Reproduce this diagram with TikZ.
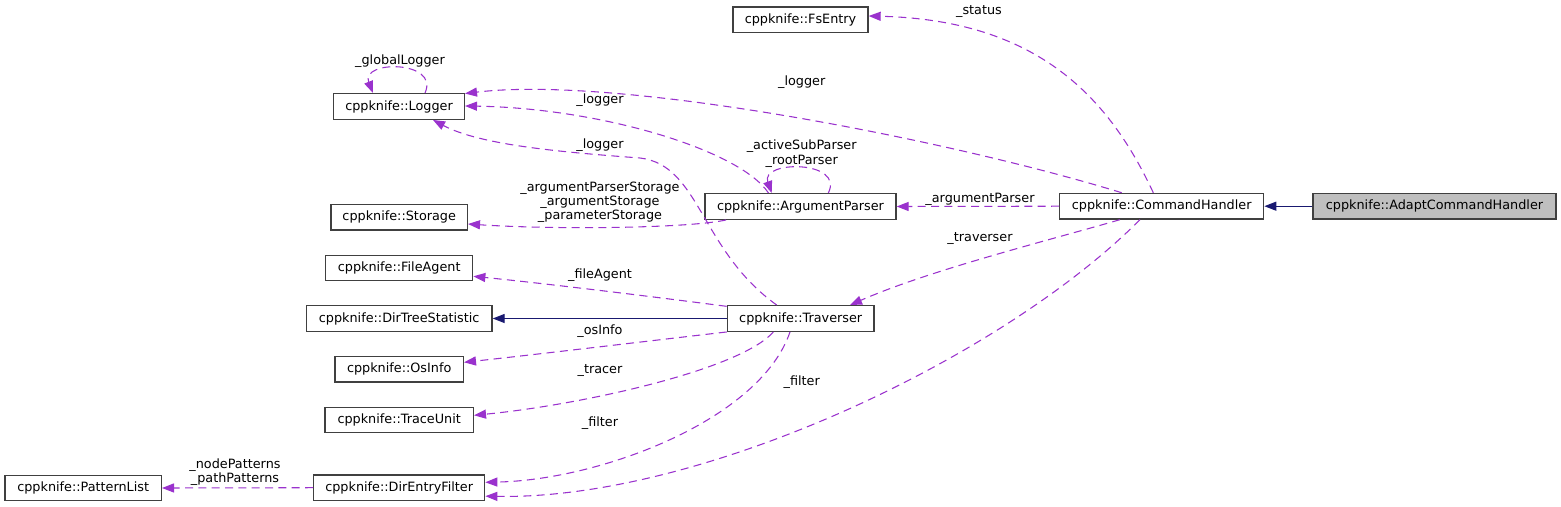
\documentclass[tikz,border=0pt]{standalone}
\usepackage{fontspec}
\setmainfont{DejaVu Sans}
\usetikzlibrary{arrows.meta,calc}
\definecolor{edgepurple}{HTML}{9A32CD}
\definecolor{edgenavy}{HTML}{191970}
\definecolor{boxborder}{HTML}{404040}
\definecolor{boxgray}{HTML}{BFBFBF}
\tikzset{
  cls/.style={draw=boxborder, line width=1pt, minimum height=19.2pt, inner sep=0pt,
    font=\fontsize{9.6}{11}\selectfont, fill=white},
  w/.style={minimum width=#1*0.75pt},
  lbl/.style={inner sep=0pt, align=center, font=\fontsize{9.6}{10.8}\selectfont},
  usage/.style={draw=edgepurple, line width=0.8pt, dash pattern=on 6pt off 4pt,
    -{Triangle[length=9pt,width=6.8pt,fill=edgepurple]}},
  inherit/.style={draw=edgenavy, line width=0.8pt,
    -{Triangle[length=9pt,width=6.8pt,fill=edgenavy]}}
}
\begin{document}
\begin{tikzpicture}[x=0.75pt,y=-0.75pt]
\useasboundingbox (0,0) rectangle (1561,507);

% nodes
\node[cls,w=135]   (fsentry)  at (800.5,19.7)  {cppknife::FsEntry};
\node[cls,w=130.7] (logger)   at (399,106.5)   {cppknife::Logger};
\node[cls,w=136.3] (storage)  at (399.2,217.3) {cppknife::Storage};
\node[cls,w=191]   (argp)     at (800.5,206.5) {cppknife::ArgumentParser};
\node[cls,w=204]   (cmd)      at (1161.7,206.2){cppknife::CommandHandler};
\node[cls,w=243,fill=boxgray] (adapt) at (1434.5,206.2) {cppknife::AdaptCommandHandler};
\node[cls,w=147]   (fileagent) at (399.2,268)  {cppknife::FileAgent};
\node[cls,w=185.7] (dirtree)  at (399.2,318.5) {cppknife::DirTreeStatistic};
\node[cls,w=146.7] (trav)     at (800.7,318.5) {cppknife::Traverser};
\node[cls,w=128.3] (osinfo)   at (399.2,369.3) {cppknife::OsInfo};
\node[cls,w=148.3] (traceunit) at (399.2,420)  {cppknife::TraceUnit};
\node[cls,w=156.3] (patternlist) at (83.2,488) {cppknife::PatternList};
\node[cls,w=171]   (dirfilter) at (399.2,487.7){cppknife::DirEntryFilter};

% inheritance
\draw[inherit] (adapt.west) -- (cmd.east);
\draw[inherit] (trav.west) -- (dirtree.east);

% usage edges
\draw[usage] ($(cmd.north)+(-8.4,0)$) .. controls (1110,100) and (1040,20) .. ($(fsentry.east)+(0,-3.7)$);
\draw[usage] ($(cmd.north)+(-40,0)$) .. controls (950,140) and (620,75) .. ($(logger.north east)+(0,0.5)$);
\draw[usage] (cmd.west) -- (argp.east);
\draw[usage] ($(cmd.south)+(-41.7,0)$) .. controls (1050,240) and (930,270) .. ($(trav.north)+(49.3,0)$);
\draw[usage] ($(cmd.south)+(-21.7,0)$) .. controls (1000,360) and (700,500) .. ($(dirfilter.south east)+(0,-5)$);
\draw[usage] ($(argp.north)+(-32,0)$) .. controls (740,150) and (600,108) .. ($(logger.east)+(0,-0.5)$);
\draw[usage] ($(argp.north)+(27.8,0)$) .. controls (845,160) and (760,160) .. ($(argp.north)+(-28.8,0)$);
\draw[usage] ($(argp.south west)+(21.7,0)$) .. controls (690,228) and (560,230) .. ($(storage.east)+(0,6.7)$);
\draw[usage] ($(trav.north)+(-24,0)$) .. controls (700,250) and (700,165) .. (640,158) .. controls (560,152) and (480,145) .. ($(logger.south east)+(-32,0)$);
\draw[usage] ($(trav.north west)+(0,1.3)$) .. controls (640,295) and (540,283) .. ($(fileagent.east)+(0,8.3)$);
\draw[usage] (trav.south west) .. controls (640,342) and (540,354) .. ($(osinfo.east)+(0,-7)$);
\draw[usage] ($(trav.south)+(-27.4,0)$) .. controls (740,370) and (580,405) .. ($(traceunit.east)+(0,-4.7)$);
\draw[usage] ($(trav.south)+(-10.7,0)$) .. controls (760,420) and (600,480) .. ($(dirfilter.east)+(0,-5.4)$);
\draw[usage] (dirfilter.west) -- (patternlist.east);
\draw[usage] ($(logger.north)+(26,0)$) .. controls (440,60) and (360,60) .. ($(logger.north)+(-26,0)$);

% labels
\node[lbl] (l_status) at (979,11.7) {\_status};
\node[lbl] (l_logger1) at (801.7,82.3) {\_logger};
\node[lbl] (l_argparser) at (980,199) {\_argumentParser};
\node[lbl] (l_traverser) at (980,239) {\_traverser};
\node[lbl] (l_filter1) at (801.7,382.3) {\_filter};
\node[lbl] (l_logger2) at (600,100) {\_logger};
\node[lbl] (l_logger3) at (600,145) {\_logger};
\node[lbl] (l_sub) at (801.7,153.7) {\_activeSubParser\\\_rootParser};
\node[lbl] (l_storage) at (600,202.3) {\_argumentParserStorage\\\_argumentStorage\\\_parameterStorage};
\node[lbl] (l_glob) at (400,60.7) {\_globalLogger};
\node[lbl] (l_fileagent) at (600,274.7) {\_fileAgent};
\node[lbl] (l_osinfo) at (600,330.7) {\_osInfo};
\node[lbl] (l_tracer) at (600,370.3) {\_tracer};
\node[lbl] (l_filter2) at (600,423) {\_filter};
\node[lbl] (l_patterns) at (235,472.2) {\_nodePatterns\\\_pathPatterns};
\end{tikzpicture}
\end{document}
